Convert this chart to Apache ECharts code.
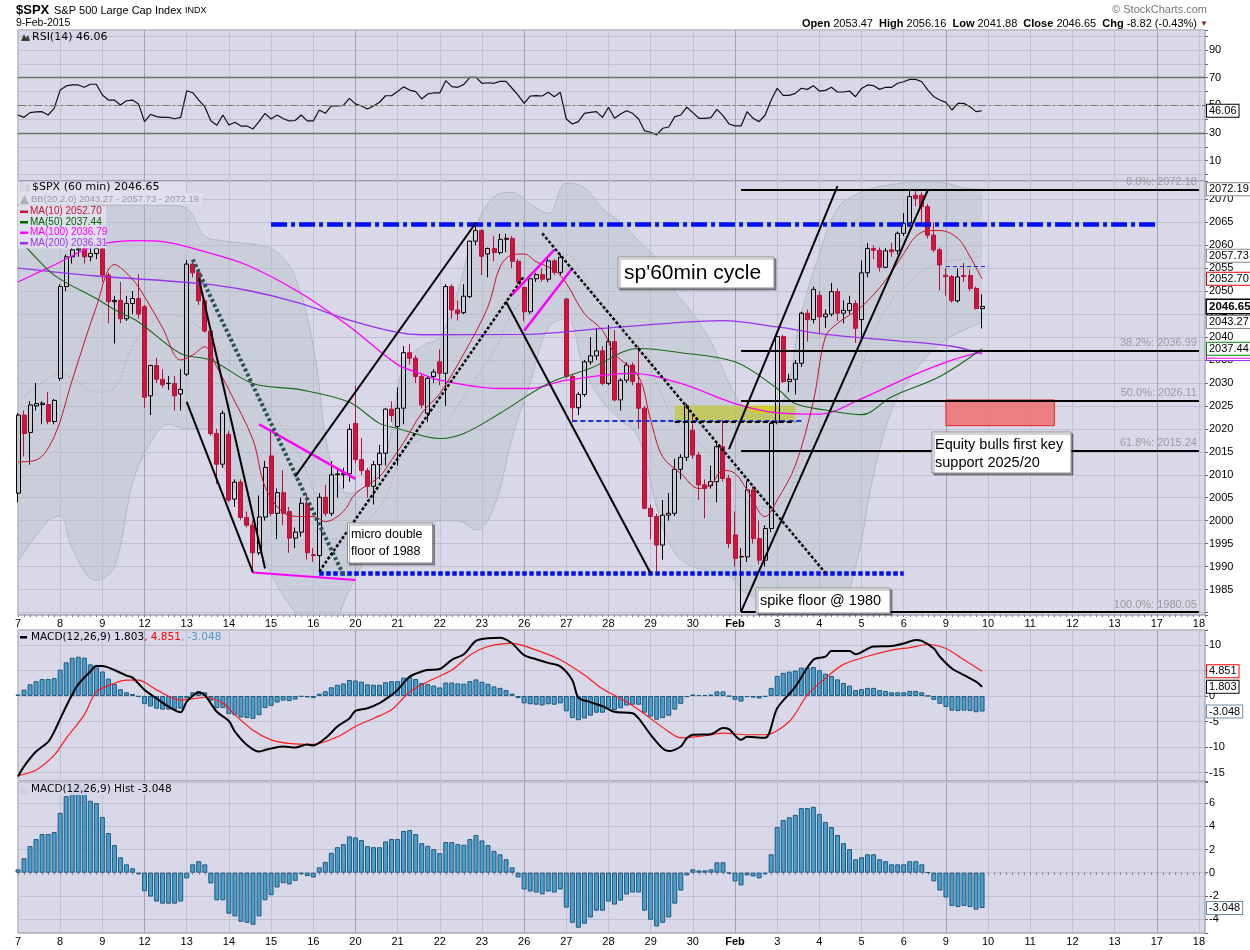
<!DOCTYPE html>
<html>
<head>
<meta charset="utf-8">
<script src="https://cdn.jsdelivr.net/npm/echarts/dist/echarts.min.js"></script>
<style>
  body { margin: 0; background: #fff; }
  #main { width: 1250px; height: 950px; }
</style>
</head>
<body>
<div id="main"></div>
<script type="text/javascript">
// day labels under the first hourly bar of each day (7 bars a day)
var dayLabels = ['7','8','9','12','13','14','15','16','20','21','22','23','26','27','28','29','30','Feb','3','4','5','6','9','10','11','12','13','17','18'];
var weekStarts = [3, 8, 12, 17, 22, 27];   // day numbers where a new week begins

// hourly candles: [open, high, low, close]
var candles = [
[2006,2023.5,2004,2023],[2023,2024,2014,2019],[2019.2,2026,2012.2,2025.2],[2025,2030,2024,2025.5],[2025.3,2026,2021,2025.6],[2025.3,2028,2021,2021.6],[2021.6,2026.5,2021,2026.2],
[2031,2051.5,2030.5,2051],[2051,2058,2050,2057.5],[2057.5,2059.5,2056,2059],[2059,2060,2057.5,2059.3],[2059.3,2060,2056,2057.5],[2057.5,2060.8,2056.5,2058.2],[2058.2,2059.8,2057,2059.3],
[2059.3,2065.5,2052,2053.5],[2053.5,2054,2043,2047.7],[2047.7,2049,2038.6,2048],[2048,2052,2043,2044],[2044,2049,2043.5,2047.3],[2047.3,2050,2045,2048.4],[2048.4,2053.7,2044,2045],
[2046.6,2047,2024.6,2026.9],[2027.2,2034,2023,2033.8],[2033.8,2035.5,2030,2030.8],[2030.8,2033,2029,2029.6],[2029.9,2031.5,2028.5,2029.9],[2029.9,2031.5,2024,2027.2],[2027.6,2033,2024,2028.6],
[2031.9,2056.8,2031.5,2055.9],[2055.9,2056.3,2053,2054],[2054,2054.5,2047,2047.9],[2047.9,2048.5,2041,2041.3],[2041.3,2042,2018.5,2019],[2019,2020,2008,2012.3],[2012.3,2024,2011.5,2023.4],
[2018.8,2019.5,2004,2004.5],[2004.7,2009,2003,2008.4],[2008.4,2009,2000.2,2000.7],[2000.7,2002,1998.5,1999],[1999,2000,1989.5,1993],[1993,2005.5,1992.5,2000.8],[2000.8,2013,2000,2011.6],
[2014.1,2019.9,2001,2001.6],[2001.6,2007,1996,2006.1],[2006.1,2011,1999,2001.6],[2002,2003,1993,1996.2],[1996.2,1998.5,1994,1997.5],[1997.5,2005,1996.5,2003.8],[2003.8,2005.8,1991.5,1993],
[1992.6,1994,1991,1992.4],[1992.4,2006,1988.7,2005.1],[2005.1,2007.8,2001,2001.6],[2001.6,2013,2001,2010],[2010,2011,2005,2010.2],[2010,2011.5,2007,2010.3],[2010.2,2021,2008.5,2019.9],
[2021.2,2029.4,2012.5,2013.3],[2013.3,2018,2010,2010.9],[2010.9,2011.5,2005,2007.5],[2007.5,2013,2003.5,2012.2],[2012.2,2016.5,2009,2014.7],[2014.7,2024.5,2012,2024.3],[2024.3,2026,2021.5,2022.9],
[2020.5,2029,2012,2024.5],[2024.5,2038,2021,2036.6],[2036.6,2038.5,2034,2035.4],[2035.4,2036,2030,2031.4],[2031.4,2032,2024.5,2025.2],[2023.4,2031.5,2021.5,2031],[2031.4,2033,2030,2032.4],
[2034.6,2037.3,2029.5,2032.1],[2032.1,2051.5,2025,2051],[2051,2051.5,2044,2045.9],[2045.9,2048,2043.6,2045.1],[2045.3,2051.5,2045,2048.9],[2048.8,2061,2048.5,2060.9],[2060.9,2064.5,2060,2063.2],
[2063.2,2063.5,2053.5,2057.6],[2058.1,2059.5,2053,2059.3],[2059.3,2062,2056.5,2058.4],[2058.4,2062.5,2058,2061.3],[2061.3,2062.5,2058.5,2061.5],[2061.5,2062,2055,2056.5],[2056.5,2057,2051.5,2052],
[2050.8,2051,2043.5,2045.5],[2045.5,2053,2045,2052.7],[2052.7,2054,2052,2053.6],[2053.6,2055,2052,2052.6],[2052.6,2057,2052,2056.6],[2056.6,2057,2053.5,2054.1],[2054.1,2058,2053.5,2057.4],
[2048.3,2048.5,2031,2031.4],[2031.4,2032,2021.4,2024.6],[2024.6,2028,2023,2027.5],[2027.5,2035,2027,2034.6],[2034.6,2040,2034,2035.9],[2035.9,2042,2035,2037],[2037,2038,2029.5,2029.9],
[2029.9,2042.6,2029.5,2039],[2039,2041.5,2026,2026.3],[2026.3,2031,2024,2030.6],[2030.6,2034.5,2030,2033.9],[2033.9,2034.5,2029.5,2030.3],[2029.9,2038,2020,2024.5],[2024.5,2025,2002.5,2002.7],
[2002.7,2003.5,1996,2000.9],[2000.9,2001.5,1989,1994.7],[1994.7,2004.5,1991.5,2001.2],[2001.2,2006,2000,2001.6],[2001.6,2013.5,2001,2011.2],[2011.2,2014.5,2009,2013.8],[2013.8,2025.5,2013,2025],
[2019.7,2023,2013.5,2014.3],[2014.3,2015,2004.5,2007.8],[2007.8,2009,2000.5,2007],[2007.6,2012,2007,2008.5],[2008.5,2017,2004,2016.1],[2016.1,2022,2008.5,2009.2],[2009.2,2010,1994,1995],
[1996.9,2002,1990,1991.8],[1992.1,1994,1980.2,1992.2],[1992.1,2008.6,1991,2006.7],[2006.7,2007.5,1995,1996.1],[1996.1,2000,1990.5,1991.4],[1991.4,1999,1990,1998.3],[1998.3,2021.5,1997.5,2021.2],
[2021.5,2040.5,2021,2040.1],[2040.1,2040.5,2030,2030.3],[2030.3,2032,2028,2030.8],[2030.8,2035,2027.5,2034.3],[2034.3,2045.5,2033.5,2045.2],[2045.2,2046,2039,2043.8],[2043.8,2051,2043,2050.4],
[2049.1,2050,2040.8,2044.4],[2044.4,2046,2042,2045],[2045,2051.8,2044.5,2049.9],[2049.9,2050.6,2043.5,2045.2],[2045.2,2048,2043,2045.8],[2045.8,2049,2045,2047.3],[2047.3,2048,2038.7,2041.9],
[2043.8,2056.7,2040,2054],[2054,2060.5,2053,2059.3],[2059.3,2060,2057,2058.9],[2058.9,2059.5,2054.3,2055.2],[2055.2,2059.4,2055,2058.8],[2059,2060.5,2057.5,2058.6],[2058.8,2063,2058,2062.6],
[2062.6,2067,2062,2064.8],[2064.8,2072.2,2064,2070.6],[2070.9,2072,2068.5,2070.2],[2070.9,2071.5,2064.9,2068.4],[2068.4,2069,2061.5,2062.2],[2062.2,2065,2058.5,2059],[2059,2059.5,2050.2,2055.7],
[2053.47,2055,2049,2053.2],[2053.2,2053.5,2047.5,2047.9],[2047.9,2055,2047.5,2053.1],[2053.4,2056.16,2052,2053.2],[2053.4,2054.7,2050,2050.6],[2050.6,2051,2046,2046.2],[2046.2,2049.3,2041.88,2046.65]
];

// moving averages, read as [bar, value]
var ma10 = [[0,2012.8],[3,2013.2],[6,2018.3],[9,2030.6],[13,2046.6],[16,2055.8],[19,2052.6],[21,2048.8],[24,2042],[27,2035],[29,2036.1],[31,2037.9],[33,2033.5],[35,2028.5],[39,2017.6],[41,2007.4],[44,2001.8],[47,2000.9],[49,2000.9],[51,1999.8],[54,2002],[56,2005.9],[60,2009.6],[62,2013.2],[64,2017],[67,2023.4],[70,2027.7],[74,2036.4],[78,2046.6],[80,2055.3],[82,2057.9],[84,2058.1],[86,2056.4],[89,2054.6],[91,2051.7],[94,2045.1],[97,2041.5],[99,2036.4],[103,2031.4],[105,2021.9],[107,2013.9],[110,2010.3],[113,2007],[115,2007.8],[117,2011],[119,2010.3],[121,2006.7],[124,2000.9],[126,2004.5],[129,2012],[132,2026],[134,2040],[136,2043],[140,2046.6],[144,2052.4],[147,2058.2],[149,2061.9],[151,2063.2],[153,2063.2],[156,2061.5],[158,2057.5],[160,2052.7]];
var ma50 = [[0,2061],[1,2060],[6,2053.5],[13,2048.4],[16,2046],[20,2043.3],[27,2036.4],[32,2035],[39,2029.9],[47,2028.5],[55,2025.8],[60,2021.2],[63,2020.1],[70,2017.9],[74,2019],[80,2023.4],[88,2029.9],[95,2033.2],[103,2037.5],[110,2036.6],[119,2034.6],[126,2028.8],[129,2025.5],[134,2024.1],[140,2023.1],[145,2027],[153,2031.4],[160,2037.44]];
var ma100 = [[0,2052],[6,2055.7],[13,2060],[20,2061],[24,2060.8],[31,2058.6],[38,2055.7],[47,2049.5],[55,2042.3],[63,2034],[67,2032],[70,2030.6],[80,2028.8],[85,2028.8],[91,2030.6],[102,2032.1],[110,2029.9],[119,2025.5],[126,2023.5],[133,2023.2],[140,2026.6],[148,2031.4],[155,2035],[160,2036.79]];
var ma200 = [[0,2055],[13,2053.3],[30,2051.7],[38,2050.2],[47,2047.3],[55,2043.7],[63,2041],[67,2040.5],[84,2040.6],[97,2041.9],[108,2043],[117,2043.6],[126,2042.2],[134,2040.6],[145,2039.3],[155,2038],[160,2036.31]];

// Bollinger band (20,2) read at these bars
var bbIdx   = [0,5,7,9,13,16,19,22,25,28,31,34,37,40,43,46,49,52,55,58,61,64,67,70,73,76,79,82,85,88,91,94,97,100,103,106,109,112,115,118,121,124,127,130,133,136,139,142,145,148,151,154,157,160];
var bbUpper = [2060,2061,2063,2067,2068.7,2068.7,2068.7,2068.7,2068.7,2068,2062,2061,2060.5,2060,2058.5,2053,2038,2012,2006,2008,2014,2034,2038,2040,2050,2064,2070.5,2071.5,2069,2067,2073.5,2072.5,2068,2065,2061,2057,2050,2045,2039,2030,2024,2023,2026,2045,2058,2068,2071,2072.5,2073.2,2073.8,2074,2073.5,2072.5,2072.19];
var bbLower = [1991,2000,2001,1994,1987,1990,2008,2017,2021,2020,2020,2012,2004,1994,1986,1980,1976,1977,1985,1992,1996,1997,1998,2000,2000,1998,2003,2018,2030,2042,2044,2033,2026,2022,2018,2003,1993,1990,1989,1988,1984,1983,1982,1981,1981,1981,1990,2010,2024,2031,2036,2039.5,2041.5,2043.27];
var bbMid   = [2026,2031,2032,2031,2028,2029,2038,2043,2045,2044,2041,2036,2032,2027,2022,2016,2007,1996,1996,2000,2005,2015,2018,2020,2025,2031,2037,2045,2050,2054,2058,2053,2047,2043,2040,2030,2022,2018,2014,2009,2004,2003,2004,2013,2020,2025,2030,2041,2048,2052,2055,2056.5,2057,2057.73];

// RSI(14), one value per bar
var rsi = [
43,41.3,44.7,45.2,45.4,43,47.8,
61,64,64.7,64.7,63,65.2,65.2,
57.4,53.8,53.8,50.2,53.3,53.8,51,
38.2,43.5,41.8,41.3,41.3,40.3,41.3,
60.5,59.1,53.8,49,38.9,35.6,43,
35.8,37.7,35,35,32.9,38.2,44.2,
40.1,43,40.5,38.7,39,43,38.7,
38.7,46.6,44.2,49.5,49.5,50,55,
51,49.5,47.3,49.5,52.2,56.9,56.9,
60,63.3,61,59.9,54.6,58.2,58.9,
58.9,67.8,63.5,63,65.1,70.2,70.2,
65.9,66.3,65.9,67.3,67.3,62.3,57.4,
51.4,56.7,57,56.7,59.4,56.2,59.4,
40.1,36.5,38.2,44.2,44.9,45.4,41.3,
48.6,40.6,43.7,46.1,44.2,40.1,31.5,
30.5,28.6,33.4,34.3,41.8,43,48.6,
44.7,40.6,40.6,41.1,47.1,42.5,36.5,
35.1,35.1,45.4,40.6,38.2,43,53.8,
62.3,57.2,57.2,58.6,62.3,61.5,64.2,
60.3,60.8,63,59.6,59.6,60.3,56.2,
62.2,64.7,64.2,61.5,63,63,65.9,
67,68.7,68.7,67,61,56.2,53.8,
52.1,46.6,51.4,51.4,49,45.4,46.06
];

// MACD(12,26,9) histogram, one value per bar
var hist = [
0.29,1.25,2.3,2.9,3.33,3.33,3.5,
5.16,6.6,7.5,7.7,7.5,6.2,6.0,
4.8,3.42,2.38,1.33,0.72,0.38,-0.14,
-1.6,-2.06,-2.49,-2.67,-2.67,-2.67,-2.49,
-0.49,0.72,0.99,0.72,-0.93,-2.38,-2.38,
-3.54,-3.77,-4.23,-4.32,-4.49,-3.77,-2.38,
-1.94,-1.28,-0.9,-1.01,-0.7,-0.14,-0.29,
-0.41,0.46,0.93,1.71,2.2,2.46,3.13,
3.04,2.81,2.29,2.2,2.2,2.7,2.9,
2.9,3.6,3.68,3.33,2.55,2.32,2.03,
1.68,2.64,2.64,2.46,2.41,2.9,3.25,
2.78,2.38,1.88,1.59,1.16,0.46,-0.41,
-1.45,-1.62,-1.71,-1.86,-1.62,-1.71,-1.45,
-3.01,-4.32,-4.75,-4.4,-3.86,-3.28,-3.28,
-2.49,-2.75,-2.41,-1.88,-1.71,-1.71,-3.28,
-4.06,-4.64,-4.32,-3.86,-2.67,-1.54,-0.23,
0.29,0.2,0.2,0.29,0.9,0.9,-0.06,
-0.75,-1.1,-0.23,-0.32,-0.49,-0.14,1.59,
3.94,4.55,4.78,4.99,5.57,5.57,5.68,
5.07,4.38,3.94,3.25,2.55,2.03,1.16,
1.33,1.59,1.59,1.16,0.99,0.72,0.72,
0.72,0.99,0.99,0.72,0.03,-0.75,-1.54,
-2.14,-2.87,-2.96,-2.87,-2.96,-3.19,-3.048
];

// MACD and signal lines, read as [bar, value]
var macdLine = [[0,-15.8],[1,-13.8],[3,-10.9],[5,-9],[6,-7],[7,-4.5],[8,-2],[9,0.3],[10,2.3],[12,4.8],[13,5.9],[14,5.9],[16,5.1],[18,4.0],[19,3.6],[21,1.2],[23,-0.5],[25,-2.1],[27,-3.2],[28,-1.1],[30,0.7],[31,0.2],[33,-3.1],[35,-4.9],[36,-7],[38,-9.6],[40,-10.9],[41,-10.6],[42,-10.3],[44,-9.9],[46,-10.1],[48,-9.5],[49,-9.7],[51,-8.3],[53,-6],[55,-4.4],[56,-2.9],[58,-2.4],[60,-1.4],[62,0.2],[63,1.2],[65,3.8],[67,4.8],[68,5.1],[70,5.3],[72,7.1],[74,8.2],[76,10.8],[78,11.3],[80,11.4],[82,10.3],[84,8.0],[86,7.2],[88,6.5],[90,5.8],[92,3.1],[93,-0.3],[95,-1.2],[97,-2],[99,-3.1],[102,-3.4],[103,-4.4],[105,-7.6],[107,-10.3],[108,-10.8],[110,-9.9],[111,-8.3],[112,-7.6],[115,-7.5],[117,-6.3],[118,-6.5],[120,-8.6],[121,-8],[124,-8.2],[126,-2.4],[129,1.8],[132,7.1],[134,7.7],[135,8.8],[138,8.8],[139,8.2],[142,9.7],[145,9.8],[147,10.3],[149,11],[150,10.8],[152,9.3],[153,7.7],[155,5.4],[157,4.1],[159,2.8],[160,1.803]];
var signalLine = [[0,-15.6],[3,-14.5],[6,-11.6],[8,-8.3],[11,-3.7],[13,0.8],[16,2.5],[18,3.1],[20,3.1],[23,1.2],[27,-0.8],[31,-0.3],[34,-1.4],[36,-3.7],[39,-6.7],[42,-8.6],[45,-9.3],[49,-9.5],[53,-8],[56,-6],[59,-4.4],[62,-2.7],[65,0.8],[68,2.8],[72,5.1],[75,8.0],[78,9.7],[82,10.3],[86,9.0],[90,7.1],[94,4.1],[97,1.4],[100,-0.5],[103,-2.7],[108,-7],[110,-8.2],[114,-7.8],[117,-7.3],[121,-7.6],[124,-7.6],[128,-5],[131,0.2],[134,3.5],[137,6.2],[141,7.8],[145,9],[148,9.5],[151,10.1],[154,9.3],[157,7.1],[160,4.851]];

// Fibonacci retracement levels
var fibLevels = [2072.18, 2036.99, 2026.11, 2015.24, 1980.05];
var fibNames  = ['0.0%', '38.2%', '50.0%', '61.8%', '100.0%'];

var NCAT = 198;
var cats = [];
for (var i = 0; i < NCAT; i++) cats.push(i % 7 === 0 ? dayLabels[i / 7] : '');
var weekIdx = weekStarts.map(function (d) { return d * 7; });

var myChart = echarts.init(document.getElementById('main'));

var PLOT_BG = '#d8d8e8';
var GRID_C = '#c0c0d2';
var FONT = 'Liberation Sans';

var gridPos = [[30, 151], [181, 434], [630, 151], [782, 151]];
var grids = gridPos.map(function (p) {
    return { left: 18, top: p[0], width: 1187, height: p[1], show: true, backgroundColor: PLOT_BG,
             borderColor: '#8a8a9c', borderWidth: 1, outerBoundsMode: 'none', containLabel: false };
});

function dayAxis(g, showLabel) {
    return {
        type: 'category', gridIndex: g, data: cats, boundaryGap: false,
        axisLine: { show: false },
        axisTick: { show: showLabel, interval: 0, length: 2, lineStyle: { color: '#777' } },
        axisLabel: {
            show: showLabel, interval: function (idx) { return idx % 7 === 0; }, margin: 3,
            fontSize: 11, color: '#000', fontFamily: FONT,
            formatter: function (v) { return v === 'Feb' ? '{b|Feb}' : v; },
            rich: { b: { fontWeight: 'bold', fontSize: 11, fontFamily: FONT } }
        },
        splitLine: { show: true, interval: function (idx) { return idx % 7 === 0; }, lineStyle: { color: GRID_C } }
    };
}
function weekAxis(g) {
    return {
        type: 'category', gridIndex: g, data: cats, boundaryGap: false,
        axisLine: { show: false }, axisTick: { show: false }, axisLabel: { show: false },
        splitLine: { show: true, interval: function (idx) { return weekIdx.indexOf(idx) >= 0; }, lineStyle: { color: '#a2a2b6' } }
    };
}
function valAxis(g, min, max, split, fmt) {
    return {
        type: 'value', gridIndex: g, position: 'right', min: min, max: max, splitNumber: split,
        axisLine: { show: false },
        axisTick: { show: true, length: 3, lineStyle: { color: '#666' } },
        axisLabel: { formatter: fmt, fontSize: 11, color: '#000', margin: 4, fontFamily: FONT },
        splitLine: { show: true, lineStyle: { color: GRID_C } }
    };
}
function isMult(v, m) { return Math.abs(v / m - Math.round(v / m)) < 1e-6; }

// a value box on the right axis, drawn as the label of an invisible horizontal markLine
function vbox(v, txt, border, color, bold) {
    return {
        yAxis: v, symbol: 'none',
        lineStyle: { color: 'rgba(0,0,0,0)', width: 0 },
        label: {
            show: true, position: 'end', distance: 2, formatter: txt, color: color || '#000',
            fontSize: bold ? 11.5 : 11, fontWeight: bold ? 'bold' : 'normal', fontFamily: FONT,
            backgroundColor: '#fff', borderColor: border, borderWidth: bold ? 1.5 : 1, padding: [1, 2, 0, 2]
        }
    };
}
function seg(x1, y1, x2, y2, color, width, type) {
    return [{ coord: [x1, y1], lineStyle: { color: color, width: width, type: type || 'solid', cap: 'butt', opacity: 1 }, label: { show: false } },
            { coord: [x2, y2] }];
}
function fibLine(k) {
    var v = fibLevels[k];
    return [{ coord: [120, v], lineStyle: { color: '#000', width: 2, type: 'solid', opacity: 1 },
              label: { show: true, position: 'insideEndTop', distance: 2, formatter: fibNames[k] + ': ' + v.toFixed(2),
                       color: '#9c9c9c', fontSize: 11, fontFamily: FONT } },
            { coord: [196, v] }];
}

var priceMarks = [
    seg(42, 2064.6, 189, 2064.6, '#0010f0', 4.5, [16, 4, 4, 4]),
    seg(50, 1988.5, 147, 1988.5, '#0010f0', 4.5, [4.5, 2.5]),
    seg(92, 2021.8, 130, 2021.8, '#1030f0', 2, [5, 3]),
    seg(109, 2021.6, 129, 2021.6, '#000', 2, [5, 3]),
    seg(154, 2055.5, 161, 2055.5, '#1030f0', 1.2, [4, 3]),
    seg(28, 2025.9, 39, 1988.7, '#000', 2),
    seg(30, 2052.8, 41, 1989.6, '#000', 2),
    seg(39, 1988.7, 56, 1987.1, '#ff00ff', 2),
    seg(40, 2021, 56, 2009.1, '#ff00ff', 2.5),
    seg(29, 2056.9, 54, 1988.2, '#2a5454', 4, [3, 2.5]),
    seg(46, 2009.6, 76, 2064.9, '#000', 2),
    seg(50, 1988.9, 84, 2053.3, '#000', 2.5, [3, 2]),
    seg(81, 2047.7, 105, 1988.5, '#000', 2),
    seg(82, 2049.2, 89, 2059, '#ff00ff', 2.5),
    seg(84, 2041.4, 92, 2055, '#ff00ff', 2.5),
    seg(87, 2062.6, 134, 1988.6, '#000', 2.5, [3, 2]),
    seg(118, 2015.6, 136, 2072.9, '#000', 2),
    seg(120, 1980.2, 151, 2072, '#000', 2),
    fibLine(0), fibLine(1), fibLine(2), fibLine(3), fibLine(4),
    vbox(2036.31, '2036.31', '#9933ff'),
    vbox(2036.79, '2036.79', '#ff00ff'),
    vbox(2072.19, '2072.19', '#888'),
    vbox(2057.73, '2057.73', '#888'),
    vbox(2052.70, '2052.70', '#e00000'),
    vbox(2043.27, '2043.27', '#888'),
    vbox(2037.44, '2037.44', '#008000'),
    vbox(2046.65, '2046.65', '#000', '#000', true)
];

function maSeries(name, data, color, width) {
    return { name: name, type: 'line', xAxisIndex: 1, yAxisIndex: 1, data: data, smooth: 0.35,
             showSymbol: false, symbol: 'none', z: 4, silent: true,
             lineStyle: { color: color, width: width } };
}

var bandLowerData = bbIdx.map(function (x, k) { return [x, bbLower[k]]; });
var bandWidthData = bbIdx.map(function (x, k) { return [x, bbUpper[k] - bbLower[k]]; });
var bandMidData = bbIdx.map(function (x, k) { return [x, bbMid[k]]; });

var option = {
    animation: false,
    backgroundColor: '#fff',
    textStyle: { fontFamily: FONT },
    grid: grids,
    xAxis: [dayAxis(0, false), dayAxis(1, true), dayAxis(2, false), dayAxis(3, true),
            weekAxis(0), weekAxis(1), weekAxis(2), weekAxis(3)],
    yAxis: [
        valAxis(0, -4.7, 104.4, 11, function (v) { return (isMult(v, 10) && [10, 30, 50, 70, 90].indexOf(Math.round(v)) >= 0) ? String(Math.round(v)) : ''; }),
        valAxis(1, 1979.45, 2074, 19, function (v) { return (isMult(v, 5) && v > 1982) ? String(Math.round(v)) : ''; }),
        valAxis(2, -16.67, 12.94, 6, function (v) { return isMult(v, 5) ? String(Math.round(v)) : ''; }),
        valAxis(3, -5.2, 7.82, 7, function (v) { return isMult(v, 2) ? String(Math.round(v)) : ''; })
    ],
    series: [
        // RSI
        { type: 'line', xAxisIndex: 0, yAxisIndex: 0, data: rsi, symbol: 'none', silent: true,
          lineStyle: { color: '#111', width: 1.2 },
          markLine: { silent: true, symbol: ['none', 'none'], animation: false,
              data: [
                  { yAxis: 70, lineStyle: { color: '#6a766a', width: 1.3, type: 'solid' }, label: { show: false } },
                  { yAxis: 30, lineStyle: { color: '#6a766a', width: 1.3, type: 'solid' }, label: { show: false } },
                  { yAxis: 50, lineStyle: { color: '#777768', width: 1, type: [8, 3, 2, 3] }, label: { show: false } },
                  vbox(46.06, '46.06', '#000')
              ] } },
        // Bollinger band
        { type: 'line', xAxisIndex: 1, yAxisIndex: 1, data: bandLowerData, stack: 'bb', smooth: 0.4, symbol: 'none',
          silent: true, z: 1, lineStyle: { color: '#b4b8c2', width: 1 } },
        { type: 'line', xAxisIndex: 1, yAxisIndex: 1, data: bandWidthData, stack: 'bb', smooth: 0.4, symbol: 'none',
          silent: true, z: 1, lineStyle: { color: '#b4b8c2', width: 1 },
          areaStyle: { color: 'rgba(178,190,194,0.55)' } },
        { type: 'line', xAxisIndex: 1, yAxisIndex: 1, data: bandMidData, smooth: 0.4, symbol: 'none',
          silent: true, z: 2, lineStyle: { color: '#b0b0bc', width: 1, type: [2, 2] } },
        // candles
        { type: 'candlestick', xAxisIndex: 1, yAxisIndex: 1, barWidth: 4.5, z: 3, silent: true,
          data: candles.map(function (c) { return [c[0], c[3], c[2], c[1]]; }),
          itemStyle: { color: 'rgba(0,0,0,0)', color0: '#c8183f', borderColor: '#000', borderColor0: '#b8103a', borderWidth: 1 },
          markArea: { silent: true,
              data: [
                  [{ coord: [109, 2025.1], itemStyle: { color: 'rgba(204,204,16,0.88)' } }, { coord: [129, 2021.4] }],
                  [{ coord: [154, 2026.3], itemStyle: { color: 'rgba(238,112,112,0.85)', borderColor: '#e02828', borderWidth: 1 } }, { coord: [172, 2020.7] }]
              ] },
          markLine: { silent: true, symbol: ['none', 'none'], animation: false, data: priceMarks } },
        maSeries('MA(200)', ma200, '#9933ee', 1.3),
        maSeries('MA(100)', ma100, '#ff00ff', 1.3),
        maSeries('MA(50)', ma50, '#1a661a', 1.1),
        maSeries('MA(10)', ma10, '#c8102e', 1),
        // MACD panel
        { type: 'bar', xAxisIndex: 2, yAxisIndex: 2, data: hist, barWidth: 5, silent: true,
          itemStyle: { color: '#4c9ccc', borderColor: '#1f5a7c', borderWidth: 1 } },
        { type: 'line', xAxisIndex: 2, yAxisIndex: 2, data: signalLine, smooth: 0.3, symbol: 'none', silent: true,
          lineStyle: { color: '#ff1a1a', width: 1.2 } },
        { type: 'line', xAxisIndex: 2, yAxisIndex: 2, data: macdLine, smooth: 0.3, symbol: 'none', silent: true,
          lineStyle: { color: '#000', width: 2 },
          markLine: { silent: true, symbol: ['none', 'none'], animation: false,
              data: [vbox(4.851, '4.851', '#ff0000'), vbox(1.803, '1.803', '#000'), vbox(-3.048, '-3.048', '#6a8aa6')] } },
        // histogram panel
        { type: 'bar', xAxisIndex: 3, yAxisIndex: 3, data: hist, barWidth: 5, silent: true,
          itemStyle: { color: '#4c9ccc', borderColor: '#1f5a7c', borderWidth: 1 },
          markLine: { silent: true, symbol: ['none', 'none'], animation: false,
              data: [vbox(-3.048, '-3.048', '#6a8aa6')] } }
    ],
    graphic: []
};

function txt(x, y, s, size, opts) {
    opts = opts || {};
    return { type: 'text', x: x, y: y, z: 100, silent: true,
             style: { text: s, fill: opts.color || '#000', fontSize: size, fontFamily: opts.family || FONT,
                      fontWeight: opts.weight || 'normal', align: opts.align || 'left', verticalAlign: 'middle',
                      textAlign: opts.align || 'left', textVerticalAlign: 'middle', rich: opts.rich,
                      backgroundColor: opts.bg, padding: opts.pad } };
}
function rect(x, y, w, h, fill, stroke, shadow) {
    var st = { fill: fill, stroke: stroke, lineWidth: 1 };
    if (shadow) { st.shadowColor = 'rgba(0,0,0,0.35)'; st.shadowOffsetX = 2; st.shadowOffsetY = 2; st.shadowBlur = 0; }
    return { type: 'rect', z: 99, silent: true, shape: { x: x, y: y, width: w, height: h }, style: st };
}

var g = option.graphic;
// page header
g.push(txt(16, 10, '$SPX', 13, { weight: 'bold' }));
g.push(txt(54, 10.5, 'S&P 500 Large Cap Index', 11));
g.push(txt(185, 11, 'INDX', 9));
g.push(txt(16, 23.5, '9-Feb-2015', 10.5));
g.push(txt(1207, 10, '\u00a9 StockCharts.com', 11, { align: 'right', color: '#777' }));
g.push(txt(1197, 23.5, '{b|Open} 2053.47  {b|High} 2056.16  {b|Low} 2041.88  {b|Close} 2046.65  {b|Chg} -8.82 (-0.43%)', 11,
           { align: 'right', rich: { b: { fontWeight: 'bold', fontSize: 11, fontFamily: FONT } } }));
g.push(txt(1200, 24, '\u25bc', 8, { color: '#8a1c1c' }));

// panel titles
g.push({ type: 'polygon', z: 100, silent: true, shape: { points: [[21, 41], [24, 34], [26, 38], [28, 35], [30, 41]] }, style: { fill: '#334433' } });
g.push(txt(32, 37, 'RSI(14) 46.06', 11, { family: 'DejaVu Sans' }));

// price legend
g.push(rect(18, 182, 168, 11, 'rgba(224,224,238,0.9)', null));
g.push(rect(18, 193, 184, 11, 'rgba(224,224,238,0.9)', null));
g.push({ type: 'group', z: 100, silent: true, children: [
    { type: 'rect', shape: { x: 21, y: 183.5, width: 3, height: 7 }, style: { fill: '#fff', stroke: '#000', lineWidth: 1 } },
    { type: 'rect', shape: { x: 26, y: 185, width: 3, height: 6 }, style: { fill: '#000', stroke: '#000', lineWidth: 1 } }
] });
g.push(txt(32, 187.5, '$SPX (60 min) 2046.65', 11, { family: 'DejaVu Sans' }));
g.push({ type: 'polygon', z: 100, silent: true, shape: { points: [[20, 204], [24.5, 195], [29, 204]] }, style: { fill: '#b0b0b8' } });
g.push(txt(31, 199, 'BB(20,2.0) 2043.27 - 2057.73 - 2072.19', 9.5, { color: '#9a9aa4' }));
var legendItems = [['MA(10) 2052.70', '#c8102e', 211.5], ['MA(50) 2037.44', '#006400', 222], ['MA(100) 2036.79', '#ff00ff', 232.5], ['MA(200) 2036.31', '#9933ee', 243]];
legendItems.forEach(function (it) {
    g.push(rect(18, it[2] - 5.5, 88, 11, 'rgba(224,224,238,0.9)', null));
    g.push(rect(20, it[2] - 1, 8, 2.5, it[1], null));
    g.push(txt(30, it[2], it[0], 10, { color: it[1] }));
});

g.push(rect(20, 636, 7, 2.5, '#000', null));
g.push(txt(31, 637.5, '{k|MACD(12,26,9) 1.803}{r|, 4.851}{c|, -3.048}', 10.5,
           { family: 'DejaVu Sans', rich: { k: { fill: '#000', color: '#000', fontSize: 10.5, fontFamily: 'DejaVu Sans' },
                                             r: { fill: '#ff0000', color: '#ff0000', fontSize: 10.5, fontFamily: 'DejaVu Sans' },
                                             c: { fill: '#5a9cc8', color: '#5a9cc8', fontSize: 10.5, fontFamily: 'DejaVu Sans' } } }));
g.push(rect(19, 783, 155, 12, 'rgba(216,216,232,0.92)', null));
g.push({ type: 'group', z: 100, silent: true, children: [
    { type: 'rect', shape: { x: 20, y: 788, width: 2, height: 6 }, style: { fill: '#334' } },
    { type: 'rect', shape: { x: 23, y: 786, width: 2, height: 8 }, style: { fill: '#334' } },
    { type: 'rect', shape: { x: 26, y: 789, width: 2, height: 5 }, style: { fill: '#334' } }
] });
g.push(txt(31, 789.5, 'MACD(12,26,9) Hist -3.048', 10.5, { family: 'DejaVu Sans' }));

// chart notes
g.push(rect(618, 257, 156, 31, '#fff', '#8c8c8c', true));
g.push(txt(624, 273, "sp'60min cycle", 21));
g.push(rect(347.5, 523, 85, 40, '#fff', '#8c8c8c', true));
g.push(txt(351, 534.5, 'micro double', 12.5));
g.push(txt(351, 551.5, 'floor of 1988', 12.5));
g.push(rect(756, 588, 134, 25, '#fff', '#8c8c8c', true));
g.push(txt(760, 600.5, 'spike floor @ 1980', 14.5));
g.push(rect(932, 432, 139, 41, '#fff', '#8c8c8c', true));
g.push(txt(935, 444.5, 'Equity bulls first key', 14.5));
g.push(txt(935, 463, 'support 2025/20', 14.5));

myChart.setOption(option);
</script>
</body>
</html>
